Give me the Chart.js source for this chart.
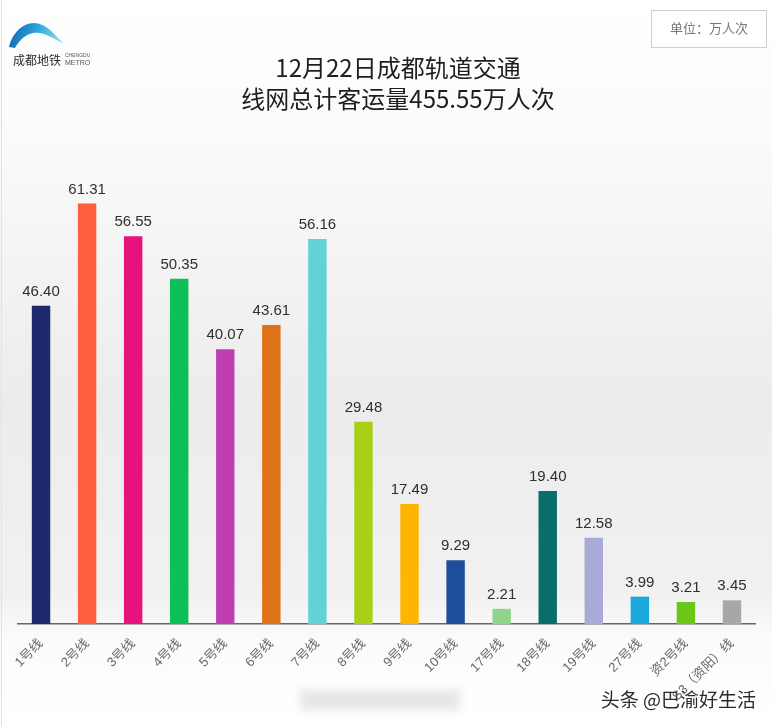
<!DOCTYPE html>
<html>
<head>
<meta charset="utf-8">
<script src="https://cdn.jsdelivr.net/npm/chart.js@4/dist/chart.umd.min.js"></script>
<style>
html,body{margin:0;padding:0;background:#fff;}
#wrap{width:772px;height:726px;position:relative;}
</style>
</head>
<body>
<div id="wrap"><canvas id="c"></canvas></div>
<script>
const categories = ['1号线','2号线','3号线','4号线','5号线','6号线','7号线','8号线','9号线','10号线','17号线','18号线','19号线','27号线','资2号线','S3（资阳）线'];
const values = [46.40,61.31,56.55,50.35,40.07,43.61,56.16,29.48,17.49,9.29,2.21,19.40,12.58,3.99,3.21,3.45];
const barColors = ['#1f2a6c','#ff5e3f','#e6137d','#0cbf57','#c03fb0','#dd7219','#60d2d8','#a9cf16','#ffb400','#1d4e9b','#8fd58a','#0b6d6b','#a9aad8','#1aa8de','#6bc81b','#a7a7a7'];
const titleLines = ['12月22日成都轨道交通','线网总计客运量455.55万人次'];
const unitText = '单位：万人次';
const watermark = '头条 @巴渝好生活';

const FONT = '"Liberation Sans","Noto Sans CJK SC",Arial,sans-serif';

const decor = {
  id: 'decor',
  beforeDraw(chart) {
    const ctx = chart.ctx, W = chart.width, H = chart.height;
    ctx.save();
    const g = ctx.createLinearGradient(0, 0, 0, H);
    g.addColorStop(0, '#ffffff');
    g.addColorStop(0.18, '#fbfbfb');
    g.addColorStop(0.55, '#ececec');
    g.addColorStop(0.82, '#f1f1f1');
    g.addColorStop(0.88, '#fbfbfb');
    g.addColorStop(1, '#ffffff');
    ctx.fillStyle = g;
    ctx.fillRect(0, 0, W, H);
    // left edge line
    ctx.strokeStyle = '#e2e2e2';
    ctx.lineWidth = 1;
    ctx.beginPath(); ctx.moveTo(1.5, 0); ctx.lineTo(1.5, H); ctx.stroke();
    // logo swoosh
    const sg = ctx.createLinearGradient(10, 30, 64, 46);
    sg.addColorStop(0, '#1468b0');
    sg.addColorStop(0.45, '#2aa4dc');
    sg.addColorStop(1, '#a6e3f5');
    ctx.fillStyle = sg;
    ctx.beginPath();
    ctx.moveTo(9, 47);
    ctx.bezierCurveTo(12, 34, 22, 23, 34, 23);
    ctx.bezierCurveTo(46, 23, 54, 34, 64, 44);
    ctx.bezierCurveTo(53, 38, 43, 31, 33, 33);
    ctx.bezierCurveTo(24, 35, 18, 42, 15, 48);
    ctx.closePath();
    ctx.fill();
    ctx.fillStyle = '#2b2b2b';
    ctx.font = '12px "Noto Sans CJK SC",sans-serif';
    ctx.textBaseline = 'middle';
    ctx.textAlign = 'left';
    ctx.fillText('成都地铁', 13, 60);
    ctx.fillStyle = '#555';
    ctx.font = '5px ' + FONT;
    ctx.fillText('CHENGDU', 65, 56);
    ctx.font = '7px ' + FONT;
    ctx.fillText('METRO', 65, 63);
    // unit box
    ctx.strokeStyle = '#cfcfcf';
    ctx.lineWidth = 1;
    ctx.fillStyle = '#ffffff';
    ctx.fillRect(651.5, 10.5, 115, 37);
    ctx.strokeRect(651.5, 10.5, 115, 37);
    ctx.fillStyle = '#777';
    ctx.font = '13px "Noto Sans CJK SC",sans-serif';
    ctx.textAlign = 'center';
    ctx.fillText(unitText, 709, 28);
    // title
    ctx.fillStyle = '#1e1e1e';
    ctx.font = '24px "Noto Sans CJK SC",sans-serif';
    ctx.fillText(titleLines[0], 398, 68);
    ctx.fillText(titleLines[1], 398, 99);
    // blurred smudge near bottom
    ctx.save();
    ctx.filter = 'blur(4px)';
    ctx.fillStyle = '#e6e6e6';
    ctx.fillRect(300, 690, 160, 20);
    ctx.restore();
    // watermark
    ctx.fillStyle = '#2a2a2a';
    ctx.font = '19px "Noto Sans CJK SC",sans-serif';
    ctx.textAlign = 'right';
    ctx.fillText(watermark, 756, 700);
    ctx.restore();
  },
  afterDatasetsDraw(chart) {
    const ctx = chart.ctx;
    const meta = chart.getDatasetMeta(0);
    ctx.save();
    ctx.fillStyle = '#2e2e2e';
    ctx.font = '15px ' + FONT;
    ctx.textAlign = 'center';
    ctx.textBaseline = 'alphabetic';
    meta.data.forEach((bar, i) => {
      ctx.fillText(values[i].toFixed(2), bar.x, bar.y - 10);
    });
    ctx.restore();
  }
};

new Chart(document.getElementById('c'), {
  type: 'bar',
  data: {
    labels: categories,
    datasets: [{
      data: values,
      backgroundColor: barColors,
      borderWidth: 0,
      barPercentage: 0.4,
      categoryPercentage: 1.0
    }]
  },
  options: {
    responsive: true,
    maintainAspectRatio: false,
    animation: false,
    layout: { padding: { top: 144, left: 18, right: 17, bottom: 0 } },
    plugins: { legend: { display: false }, tooltip: { enabled: false }, title: { display: false } },
    scales: {
      x: {
        grid: { display: false },
        border: { display: true, color: '#666666', width: 1.5 },
        ticks: {
          autoSkip: false,
          maxRotation: 45,
          minRotation: 45,
          padding: 4,
          color: '#666',
          font: { size: 13, family: FONT }
        },
        afterFit(scale) { scale.height = 102; }
      },
      y: {
        display: false,
        min: 0,
        max: 70
      }
    }
  },
  plugins: [decor]
});
</script>
</body>
</html>
